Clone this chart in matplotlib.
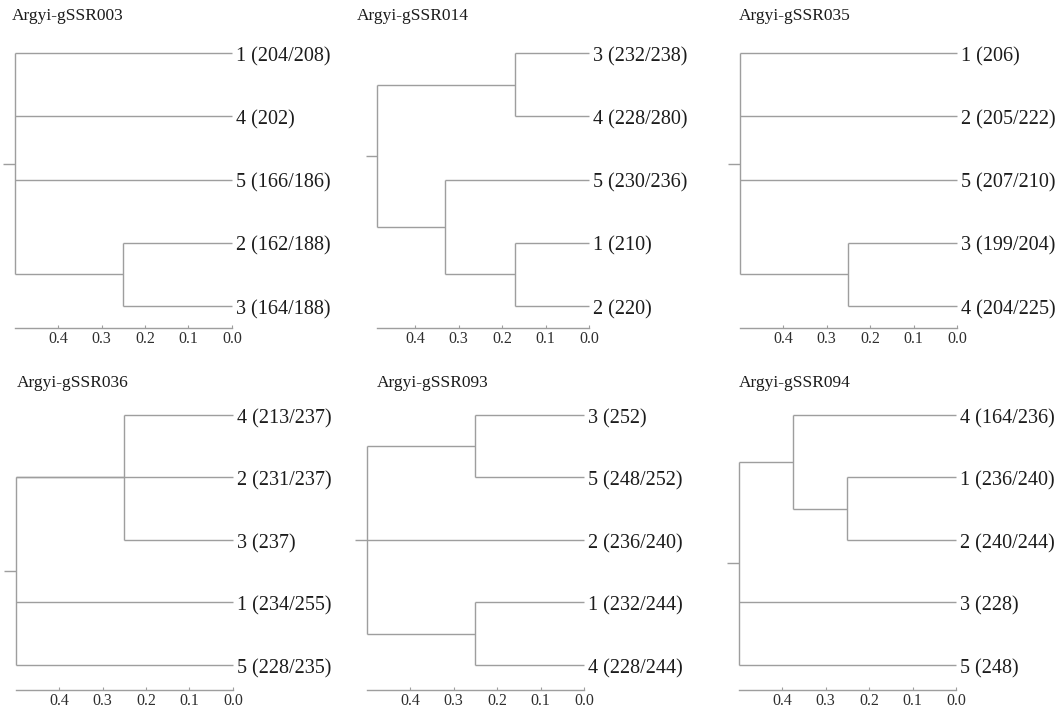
import matplotlib
matplotlib.use("Agg")
import matplotlib.pyplot as plt

W, H = 1057, 707
plt.rcParams['font.family'] = ['Liberation Serif', 'DejaVu Serif']

# ---------------- data ----------------
titles = ["Argyi-gSSR003", "Argyi-gSSR014", "Argyi-gSSR035",
          "Argyi-gSSR036", "Argyi-gSSR093", "Argyi-gSSR094"]

leaves_003 = ["1 (204/208)", "4 (202)", "5 (166/186)", "2 (162/188)", "3 (164/188)"]
leaves_014 = ["3 (232/238)", "4 (228/280)", "5 (230/236)", "1 (210)", "2 (220)"]
leaves_035 = ["1 (206)", "2 (205/222)", "5 (207/210)", "3 (199/204)", "4 (204/225)"]
leaves_036 = ["4 (213/237)", "2 (231/237)", "3 (237)", "1 (234/255)", "5 (228/235)"]
leaves_093 = ["3 (252)", "5 (248/252)", "2 (236/240)", "1 (232/244)", "4 (228/244)"]
leaves_094 = ["4 (164/236)", "1 (236/240)", "2 (240/244)", "3 (228)", "5 (248)"]

# trees: (height, [children]); integers are leaf rows (0 = top)
tree_003 = (0.50, [0, 1, 2, (0.25, [3, 4])])
tree_014 = (0.487, [(0.17, [0, 1]), (0.33, [2, (0.17, [3, 4])])])
tree_035 = (0.50, [0, 1, 2, (0.25, [3, 4])])
tree_036 = (0.50, [(0.25, [0, 2]), 1, 3, 4])
tree_093 = (0.50, [(0.25, [0, 1]), 2, (0.25, [3, 4])])
tree_094 = (0.50, [(0.375, [0, (0.25, [1, 2])]), 3, 4])

tick_values = [0.4, 0.3, 0.2, 0.1, 0.0]
tick_labels = ["0.4", "0.3", "0.2", "0.1", "0.0"]

leaves_all = [leaves_003, leaves_014, leaves_035, leaves_036, leaves_093, leaves_094]
trees_all = [tree_003, tree_014, tree_035, tree_036, tree_093, tree_094]

# ---------------- layout (pixels) ----------------
px_zero = [232, 589, 957, 233, 584, 956]
title_x = [12, 357, 739, 17, 377, 739]
title_y = [16, 16, 16, 383, 383, 383]
row_leaf1 = [53, 415]
row_spacing = [63.25, 62.5]
row_axis = [328, 690]
SCALE = 435.0
XLEFT = 0.53
STUB = 0.026

LINE = '#9e9e9e'
TXT = '#1c1c1c'
TICKTXT = '#2e2e2e'
LW = 1.0

fig = plt.figure(figsize=(W / 100, H / 100), dpi=100)


def node_height(n):
    return 0.0 if isinstance(n, int) else n[0]


def draw_node(ax, n):
    if isinstance(n, int):
        return float(n)
    h, kids = n
    ys = []
    for k in kids:
        yk = draw_node(ax, k)
        ys.append(yk)
        ax.plot([node_height(k), h], [yk, yk], color=LINE, lw=LW,
                solid_capstyle='butt', clip_on=False)
    ax.plot([h, h], [min(ys), max(ys)], color=LINE, lw=LW,
            solid_capstyle='butt', clip_on=False)
    return (min(ys) + max(ys)) / 2.0


for i in range(6):
    r = i // 3
    sp = row_spacing[r]
    top_px = row_leaf1[r] - 0.5 * sp
    bot_px = row_axis[r]
    ybot = 4 + (row_axis[r] - (row_leaf1[r] + 4 * sp)) / sp
    left_px = px_zero[i] - XLEFT * SCALE
    ax = fig.add_axes([left_px / W, 1 - bot_px / H,
                       (px_zero[i] - left_px) / W, (bot_px - top_px) / H])
    ax.set_xlim(XLEFT, 0.0)
    ax.set_ylim(ybot, -0.5)
    ax.patch.set_alpha(0)

    tree = trees_all[i]
    yroot = draw_node(ax, tree)
    ax.plot([tree[0], tree[0] + STUB], [yroot, yroot], color=LINE, lw=LW,
            solid_capstyle='butt', clip_on=False)

    for j, lab in enumerate(leaves_all[i]):
        ax.annotate(lab, (0.0, j), xytext=(3, -2.5), textcoords='offset points',
                    ha='left', va='center', fontsize=14.5, color=TXT,
                    annotation_clip=False)

    for s in ['top', 'right', 'left']:
        ax.spines[s].set_visible(False)
    ax.spines['bottom'].set_color(LINE)
    ax.spines['bottom'].set_linewidth(LW)
    ax.spines['bottom'].set_bounds(0.0, tree[0])
    ax.set_yticks([])
    ax.set_xticks(tick_values)
    ax.set_xticklabels(tick_labels)
    ax.tick_params(axis='x', direction='in', length=2.5, width=0.8,
                   color=LINE, labelsize=11.5, labelcolor=TICKTXT, pad=2.2)

    fig.text(title_x[i] / W, 1 - title_y[i] / H, titles[i], ha='left',
             va='center', fontsize=12.5, color=TXT)

fig.savefig("out.png", dpi=100)
